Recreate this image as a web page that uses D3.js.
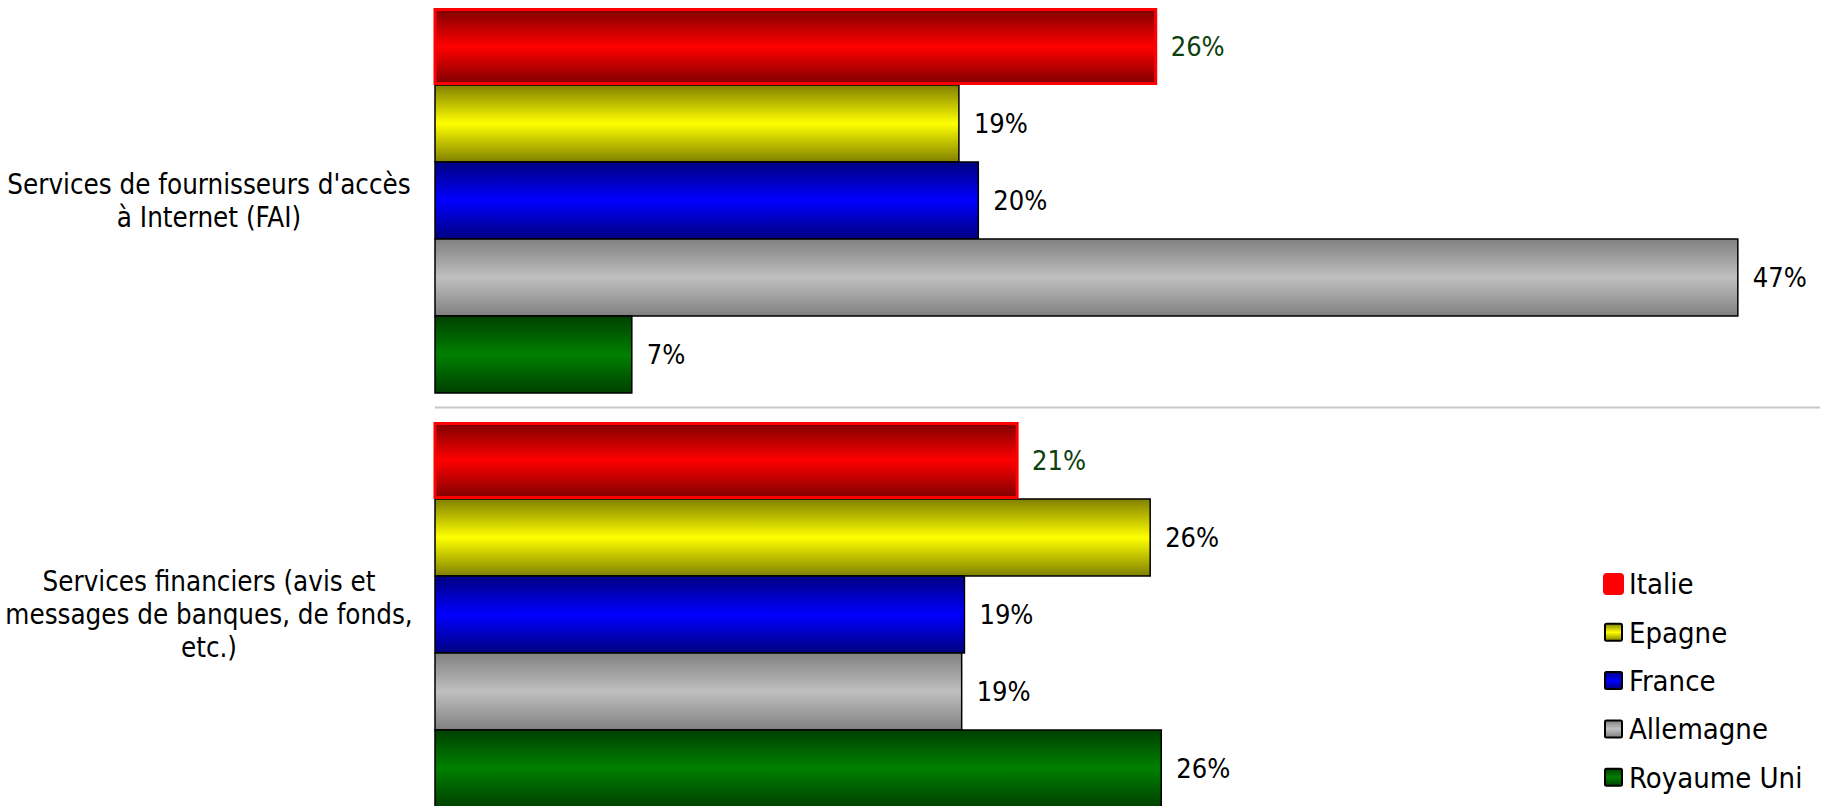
<!DOCTYPE html>
<html>
<head>
<meta charset="utf-8">
<script src="https://cdn.jsdelivr.net/npm/d3@7"></script>
<style>
  body { margin: 0; background: #fff; }
  text { font-family: "DejaVu Sans Condensed", "DejaVu Sans", sans-serif; }
</style>
</head>
<body>
<script>
var width = 1824;
var height = 806;

// data
var categories = ["FAI", "Financiers"];
var categoryLines = [
    ["Services de fournisseurs d'accès", "à Internet (FAI)"],
    ["Services financiers (avis et", "messages de banques, de fonds,", "etc.)"]
];
var series = ["Italie", "Epagne", "France", "Allemagne", "Royaume Uni"];
var values = {
    "Italie":      [26.0, 21.0],
    "Epagne":      [18.9, 25.8],
    "France":      [19.6, 19.1],
    "Allemagne":   [47.0, 19.0],
    "Royaume Uni": [7.1, 26.2]
};
var labels = {
    "Italie":      ["26%", "21%"],
    "Epagne":      ["19%", "26%"],
    "France":      ["20%", "19%"],
    "Allemagne":   ["47%", "19%"],
    "Royaume Uni": ["7%", "26%"]
};
var colors = {
    "Italie":      ["#800000", "#ff0000"],
    "Epagne":      ["#808000", "#ffff00"],
    "France":      ["#000080", "#0000ff"],
    "Allemagne":   ["#808080", "#c0c0c0"],
    "Royaume Uni": ["#004000", "#008000"]
};

var svg = d3.select("body")
    .append("svg")
    .attr("width", width)
    .attr("height", height);

var defs = svg.append("defs");
series.forEach(function(s, i) {
    var g = defs.append("linearGradient")
        .attr("id", "grad" + i)
        .attr("x1", 0).attr("y1", 0)
        .attr("x2", 0).attr("y2", 1);
    g.append("stop").attr("offset", "0%").attr("stop-color", colors[s][0]);
    g.append("stop").attr("offset", "50%").attr("stop-color", colors[s][1]);
    g.append("stop").attr("offset", "100%").attr("stop-color", colors[s][0]);
});

var x = d3.scaleLinear()
    .domain([0, 50])
    .range([435, 1821]);

var y = d3.scaleBand()
    .domain(categories)
    .range([-6.5, 821.5])
    .paddingInner(0.07)
    .paddingOuter(0.035);

var ySub = d3.scaleBand()
    .domain(series)
    .range([0, y.bandwidth()]);

// separator between groups
var sepY = (y(categories[0]) + y.bandwidth() + y(categories[1])) / 2;
svg.append("line")
    .attr("x1", x(0))
    .attr("x2", 1820)
    .attr("y1", sepY)
    .attr("y2", sepY)
    .attr("stroke", "#c8c8c8")
    .attr("stroke-width", 2);

var groups = svg.selectAll(".group")
    .data(categories)
    .enter()
    .append("g")
    .attr("class", "group")
    .attr("transform", function(d) { return "translate(0," + y(d) + ")"; });

// draw non-highlighted first, Italie last so its red border sits on top
var order = series.slice(1).concat([series[0]]);

groups.each(function(cat, ci) {
    var g = d3.select(this);
    order.forEach(function(s) {
        var si = series.indexOf(s);
        var hl = s === "Italie";
        g.append("rect")
            .attr("x", x(0))
            .attr("y", ySub(s) + (hl ? 1.5 : 0))
            .attr("width", x(values[s][ci]) - x(0))
            .attr("height", ySub.bandwidth() - (hl ? 3 : 0))
            .attr("fill", "url(#grad" + si + ")")
            .attr("stroke", hl ? "#ff0000" : "#000")
            .attr("stroke-width", hl ? 3 : 1.5);
        g.append("text")
            .attr("x", x(values[s][ci]) + 15)
            .attr("y", ySub(s) + ySub.bandwidth() / 2)
            .attr("dy", "0.36em")
            .attr("font-size", 27)
            .attr("fill", hl ? "#0d400d" : "#000")
            .text(labels[s][ci]);
    });

    var lines = categoryLines[ci];
    var lh = 33;
    g.append("text")
        .attr("x", 209)
        .attr("text-anchor", "middle")
        .attr("font-size", 27.5)
        .attr("fill", "#000")
        .selectAll("tspan")
        .data(lines)
        .enter()
        .append("tspan")
        .attr("x", 209)
        .attr("y", function(d, i) {
            return y.bandwidth() / 2 + (i - (lines.length - 1) / 2) * lh;
        })
        .attr("dy", "0.36em")
        .text(function(d) { return d; });
});

// legend
var legend = svg.append("g")
    .attr("transform", "translate(1604,584)");

var item = legend.selectAll(".item")
    .data(series)
    .enter()
    .append("g")
    .attr("class", "item")
    .attr("transform", function(d, i) { return "translate(0," + (i * 48.3) + ")"; });

item.append("rect")
    .attr("x", function(d) { return d === "Italie" ? 0 : 1; })
    .attr("y", function(d) { return d === "Italie" ? -10 : -8.5; })
    .attr("width", function(d) { return d === "Italie" ? 19 : 17; })
    .attr("height", function(d) { return d === "Italie" ? 20 : 17; })
    .attr("rx", function(d) { return d === "Italie" ? 3 : 1.5; })
    .attr("fill", function(d, i) { return d === "Italie" ? "#ff0000" : "url(#grad" + i + ")"; })
    .attr("stroke", function(d) { return d === "Italie" ? "#ff0000" : "#000"; })
    .attr("stroke-width", 2);

item.append("text")
    .attr("x", 25)
    .attr("dy", "0.36em")
    .attr("font-size", 29)
    .attr("fill", "#000")
    .text(function(d) { return d; });
</script>
</body>
</html>
